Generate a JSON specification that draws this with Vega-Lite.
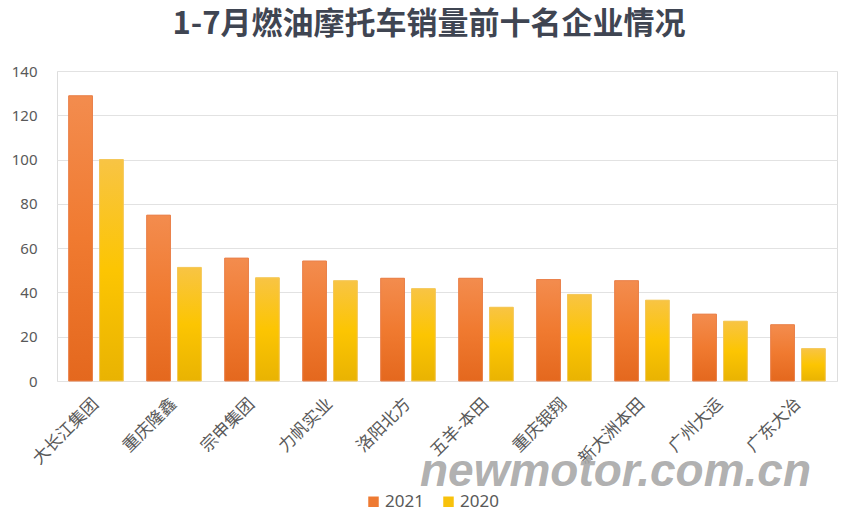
{
  "$schema": "https://vega.github.io/schema/vega-lite/v6.json",
  "width": 780,
  "height": 310,
  "autosize": {"type": "none"},
  "padding": {"left": 57, "top": 71, "right": 7, "bottom": 137},
  "background": "white",
  "title": {
    "text": "1-7月燃油摩托车销量前十名企业情况",
    "font": "Noto Sans CJK SC",
    "fontSize": 31,
    "fontWeight": "bold",
    "color": "#3f4552",
    "anchor": "middle",
    "dx": -18,
    "baseline": "bottom",
    "offset": -8
  },
  "data": {
    "values": [
      {"company": "大长江集团", "year": "2021", "value": 128.8},
      {"company": "大长江集团", "year": "2020", "value": 100},
      {"company": "重庆隆鑫", "year": "2021", "value": 74.9},
      {"company": "重庆隆鑫", "year": "2020", "value": 51.3},
      {"company": "宗申集团", "year": "2021", "value": 55.5},
      {"company": "宗申集团", "year": "2020", "value": 46.6},
      {"company": "力帆实业", "year": "2021", "value": 54.2},
      {"company": "力帆实业", "year": "2020", "value": 45.3},
      {"company": "洛阳北方", "year": "2021", "value": 46.4},
      {"company": "洛阳北方", "year": "2020", "value": 41.7},
      {"company": "五羊-本田", "year": "2021", "value": 46.4},
      {"company": "五羊-本田", "year": "2020", "value": 33.3},
      {"company": "重庆银翔", "year": "2021", "value": 45.8},
      {"company": "重庆银翔", "year": "2020", "value": 39.1},
      {"company": "新大洲本田", "year": "2021", "value": 45.3},
      {"company": "新大洲本田", "year": "2020", "value": 36.5},
      {"company": "广州大运", "year": "2021", "value": 30.2},
      {"company": "广州大运", "year": "2020", "value": 27.0},
      {"company": "广东大冶", "year": "2021", "value": 25.4},
      {"company": "广东大冶", "year": "2020", "value": 14.6}
    ]
  },
  "encoding": {
    "x": {
      "field": "company",
      "type": "nominal",
      "sort": null,
      "scale": {"paddingInner": 0.3, "paddingOuter": 0.15},
      "axis": {
        "title": "newmotor.com.cn",
        "titleX": 558,
        "titleY": 104,
        "titleAlign": "center",
        "titleBaseline": "alphabetic",
        "titleFont": "Liberation Sans",
        "titleFontSize": 46,
        "titleFontStyle": "italic",
        "titleFontWeight": "bold",
        "titleColor": "#a6a6a6",
        "titleOpacity": 0.9,
        "labelAngle": -45,
        "labelAlign": "right",
        "labelBaseline": "middle",
        "labelFont": "Noto Sans CJK SC",
        "labelFontSize": 17,
        "labelColor": "#595959",
        "labelPadding": 20,
        "ticks": false,
        "domain": false,
        "grid": false
      }
    },
    "xOffset": {
      "field": "year",
      "type": "nominal",
      "scale": {"domain": ["2021", "2020"], "paddingInner": 0.23}
    },
    "y": {
      "field": "value",
      "type": "quantitative",
      "scale": {"domain": [0, 140], "nice": false},
      "axis": {
        "title": null,
        "values": [0, 20, 40, 60, 80, 100, 120, 140],
        "domain": false,
        "ticks": false,
        "labelFont": "Noto Sans",
        "labelFontSize": 15,
        "labelColor": "#595959",
        "labelPadding": 20,
        "gridColor": "#e2e2e2",
        "gridWidth": 1
      }
    }
  },
  "layer": [
    {
      "mark": {"type": "bar"},
      "encoding": {
        "color": {
          "field": "year",
          "type": "nominal",
          "scale": {"domain": ["2021", "2020"], "range": ["#ee7a32", "#f8c20c"]},
          "legend": {
            "orient": "none",
            "legendX": 308,
            "legendY": 422,
            "direction": "horizontal",
            "title": null,
            "symbolType": "square",
            "symbolSize": 110,
            "symbolStrokeWidth": 0,
            "labelFont": "Noto Sans",
            "labelFontSize": 17,
            "labelColor": "#595959",
            "labelOffset": 3,
            "columnPadding": 16
          }
        }
      }
    },
    {
      "mark": {"type": "bar", "strokeWidth": 1},
      "encoding": {
        "fill": {
          "condition": {
            "test": "datum.year === '2021'",
            "value": {
              "gradient": "linear",
              "x1": 0, "y1": 0, "x2": 0, "y2": 1,
              "stops": [
                {"offset": 0, "color": "#f38c4e"},
                {"offset": 0.5, "color": "#f07a30"},
                {"offset": 1, "color": "#e4681e"}
              ]
            }
          },
          "value": {
            "gradient": "linear",
            "x1": 0, "y1": 0, "x2": 0, "y2": 1,
            "stops": [
              {"offset": 0, "color": "#f8c444"},
              {"offset": 0.5, "color": "#fcc502"},
              {"offset": 1, "color": "#e9b302"}
            ]
          }
        },
        "stroke": {
          "condition": {"test": "datum.year === '2021'", "value": "#e9804a"},
          "value": "#f4c85a"
        }
      }
    }
  ]
}
